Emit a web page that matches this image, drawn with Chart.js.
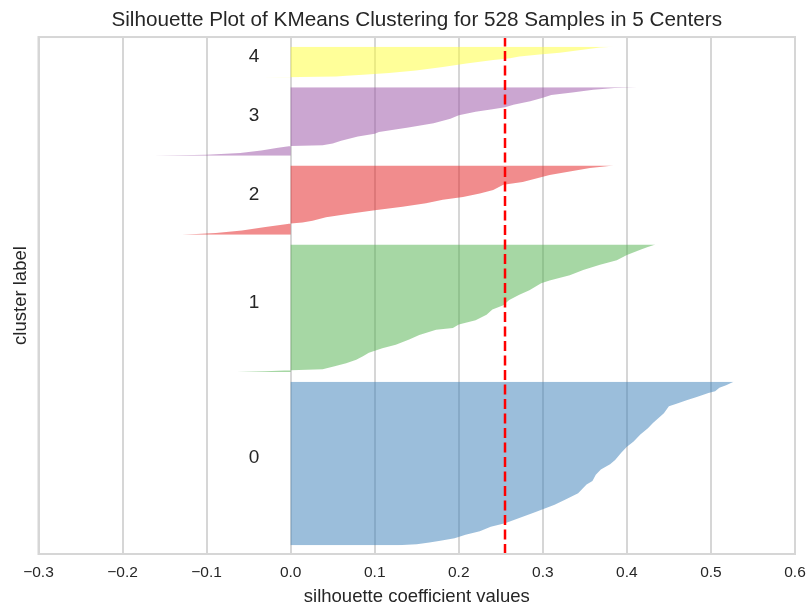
<!DOCTYPE html>
<html><head><meta charset="utf-8">
<script src="https://cdn.jsdelivr.net/npm/chart.js@4.4.1/dist/chart.umd.min.js"></script>
<style>html,body{margin:0;padding:0;background:#fff}canvas{display:block}</style>
</head><body>
<canvas id="c" width="809" height="608"></canvas>
<script>
// ---- data ----
const titleText = 'Silhouette Plot of KMeans Clustering for 528 Samples in 5 Centers';
const clusterLabels = ['0', '1', '2', '3', '4'];
const clusterSizes = [187, 146, 80, 79, 36];
const avgSilhouette = 0.255;
const xTicks = [-0.3, -0.2, -0.1, 0.0, 0.1, 0.2, 0.3, 0.4, 0.5, 0.6];

// sorted silhouette profile of each cluster: sample rank within cluster -> value
const c0Rank = [0, 1, 3, 5, 8, 12, 16, 21, 25, 31, 37, 41, 46, 52, 59, 65, 69, 73, 80, 86, 92, 97, 105, 112, 118, 126, 133, 139, 144, 150, 158, 161, 165, 169, 173, 175, 179, 182, 186];
const c0Sil  = [0.127, 0.15, 0.165, 0.178, 0.195, 0.208, 0.225, 0.238, 0.255, 0.272, 0.289, 0.300, 0.314, 0.327, 0.342, 0.348, 0.352, 0.359, 0.363, 0.369, 0.380, 0.386, 0.393, 0.400, 0.408, 0.416, 0.425, 0.431, 0.437, 0.444, 0.450, 0.459, 0.471, 0.484, 0.497, 0.505, 0.510, 0.518, 0.527];

const c1Rank = [0, 1, 2, 3, 6, 10, 14, 18, 22, 27, 31, 37, 42, 48, 50, 54, 59, 65, 71, 76, 82, 88, 93, 101, 104, 110, 116, 122, 127, 133, 139, 142, 145];
const c1Sil  = [-0.064, -0.03, 0.0, 0.038, 0.05, 0.066, 0.078, 0.086, 0.093, 0.109, 0.125, 0.141, 0.153, 0.173, 0.193, 0.200, 0.220, 0.233, 0.240, 0.253, 0.260, 0.272, 0.284, 0.298, 0.308, 0.332, 0.348, 0.368, 0.388, 0.400, 0.416, 0.424, 0.434];

const c2Rank = [0, 2, 5, 9, 12, 13, 14, 16, 20, 24, 28, 32, 36, 40, 43, 47, 51, 57, 60, 64, 68, 72, 76, 78, 79];
const c2Sil  = [-0.129, -0.089, -0.058, -0.03, -0.006, 0.0, 0.014, 0.026, 0.042, 0.07, 0.10, 0.133, 0.161, 0.181, 0.205, 0.225, 0.241, 0.253, 0.276, 0.292, 0.308, 0.332, 0.356, 0.376, 0.384];

const c3Rank = [0, 1, 3, 6, 9, 11, 12, 14, 17, 22, 25, 27, 32, 37, 42, 46, 50, 53, 55, 58, 62, 66, 69, 72, 75, 77, 78];
const c3Sil  = [-0.162, -0.10, -0.06, -0.035, -0.015, 0.0, 0.038, 0.05, 0.06, 0.08, 0.10, 0.105, 0.14, 0.17, 0.19, 0.2, 0.22, 0.24, 0.255, 0.265, 0.285, 0.30, 0.31, 0.335, 0.36, 0.385, 0.412];

const c4Rank = [0, 1, 2, 3, 5, 8, 12, 16, 20, 21, 22, 24, 26, 28, 30, 32, 34, 35];
const c4Sil  = [-0.032, 0.054, 0.066, 0.086, 0.117, 0.149, 0.181, 0.209, 0.241, 0.253, 0.261, 0.272, 0.296, 0.32, 0.336, 0.352, 0.368, 0.384];

// ---- styling ----
const ranks = [c0Rank, c1Rank, c2Rank, c3Rank, c4Rank];
const sils = [c0Sil, c1Sil, c2Sil, c3Sil, c4Sil];
const fillColors = ['rgba(55,126,184,0.5)', 'rgba(77,175,74,0.5)', 'rgba(228,26,28,0.5)', 'rgba(152,78,163,0.5)', 'rgba(255,255,51,0.5)'];
const FONT = '"Liberation Sans", Arial, sans-serif';
const TEXT = '#262626';
const GRID = '#d6d6d6';
const gap = 10;
const labelX = -0.05;

const starts = [];
let yl = gap;
clusterSizes.forEach(s => { starts.push(yl); yl += s + gap; });
const yMax = yl;

Chart.defaults.font.family = FONT;
Chart.defaults.color = TEXT;

const datasets = [{
  label: 'average',
  data: [{x: avgSilhouette, y: 0}, {x: avgSilhouette, y: yMax}],
  borderColor: '#ff0000', borderWidth: 2.5, borderDash: [10, 4.5],
  fill: false, pointRadius: 0, order: 0
}];
clusterLabels.forEach((lab, k) => {
  datasets.push({
    label: lab,
    data: ranks[k].map((r, i) => ({x: sils[k][i], y: starts[k] + r})),
    backgroundColor: fillColors[k],
    borderColor: 'rgba(0,0,0,0)', borderWidth: 1,
    fill: 'origin', pointRadius: 0, tension: 0, order: 1
  });
});

const framePlugin = {
  id: 'frame',
  afterDatasetsDraw(chart) {
    const {ctx, chartArea: a, scales: {x, y}} = chart;
    ctx.save();
    ctx.strokeStyle = GRID; ctx.lineWidth = 2;
    ctx.strokeRect(a.left, a.top, a.right - a.left, a.bottom - a.top);
    ctx.font = '19px ' + FONT;
    ctx.fillStyle = TEXT; ctx.textAlign = 'left'; ctx.textBaseline = 'alphabetic';
    clusterLabels.forEach((lab, k) => {
      ctx.fillText(lab, x.getPixelForValue(labelX), y.getPixelForValue(starts[k] + clusterSizes[k] / 2));
    });
    ctx.restore();
  }
};

new Chart(document.getElementById('c'), {
  type: 'line',
  data: {datasets},
  plugins: [framePlugin],
  options: {
    responsive: false, animation: false, indexAxis: 'y',
    layout: {padding: {top: 0, right: 14, bottom: 0, left: 0}},
    plugins: {
      legend: {display: false}, tooltip: {enabled: false},
      title: {display: true, text: titleText, color: TEXT, fullSize: false,
        font: {family: FONT, size: 20.7, weight: 'normal'}, padding: {top: 8, bottom: 4.2}}
    },
    scales: {
      x: {
        type: 'linear', min: -0.3, max: 0.6,
        afterBuildTicks: s => { s.ticks = xTicks.map(v => ({value: v})); },
        ticks: {callback: v => (v < -1e-9 ? '\u2212' : '') + Math.abs(v).toFixed(1),
          color: TEXT, font: {size: 15.5}, padding: 9, maxRotation: 0, autoSkip: false},
        grid: {color: GRID, lineWidth: 2, drawTicks: false},
        border: {display: false},
        title: {display: true, text: 'silhouette coefficient values', color: TEXT,
          font: {size: 18.5}, padding: {top: 0, bottom: 0}},
        afterFit: s => { s.height = 54; s.paddingLeft = 0; s.paddingRight = 0; }
      },
      y: {
        type: 'linear', min: 0, max: yMax,
        ticks: {display: false}, grid: {display: false}, border: {display: false},
        title: {display: true, text: 'cluster label', color: TEXT,
          font: {size: 18.5}, padding: {top: 10, bottom: 0}},
        afterFit: s => { s.width = 38.5; }
      }
    }
  }
});
</script>
</body></html>
